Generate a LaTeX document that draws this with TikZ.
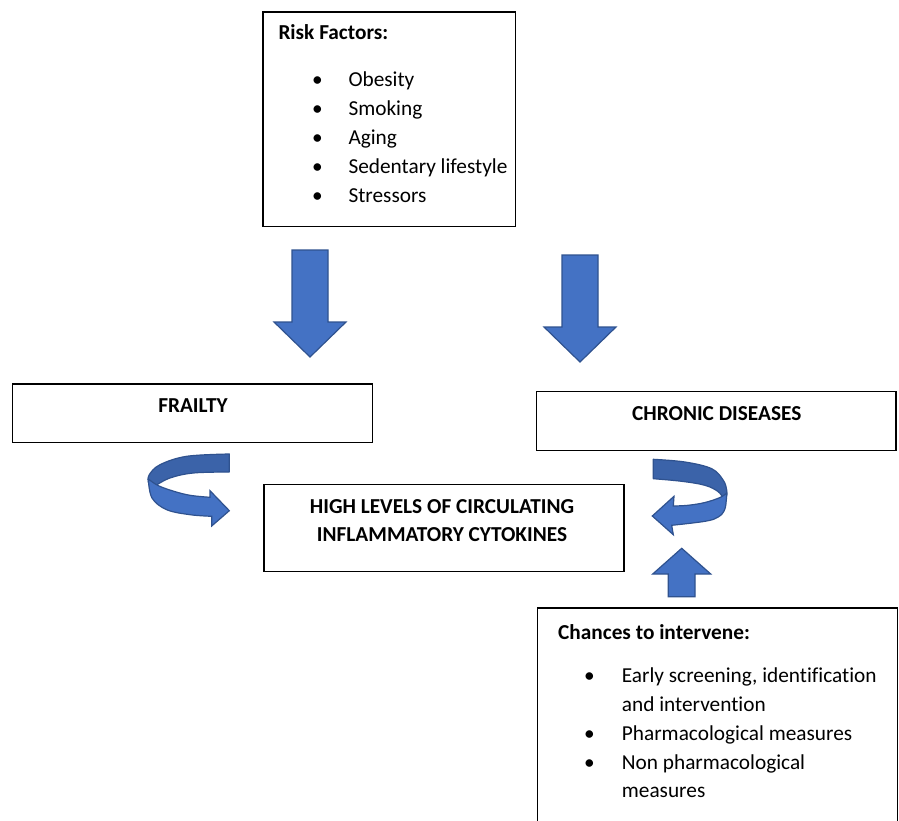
\documentclass[tikz,border=0pt]{standalone}
\usepackage{fontspec}
\setmainfont{Carlito}[Ligatures=NoCommon]
\definecolor{arrowfill}{HTML}{4472C4}
\definecolor{arrowline}{HTML}{2F528F}
\definecolor{arrowdark}{HTML}{3B63A9}
\begin{document}
\begin{tikzpicture}[x=1pt,y=-1pt,
  box/.style={draw=black, line width=1.3pt, fill=white, inner sep=0pt},
  blockarrow/.style={fill=arrowfill, draw=arrowline, line width=1.2pt, line join=miter},
  backband/.style={fill=arrowdark, draw=arrowline, line width=1.2pt, line join=round},
  frontband/.style={fill=arrowfill, draw=arrowline, line width=1.2pt, line join=miter},
  txt/.style={inner sep=0pt, font=\fontsize{21.3}{28.8}\selectfont},
  btxt/.style={inner sep=0pt, font=\fontsize{21.3}{28.8}\selectfont\bfseries}]
\useasboundingbox (0,0) rectangle (899,821);
\fill[white] (0,0) rectangle (899,821);

% ---------- boxes ----------
\node[box, minimum width=252.7pt, minimum height=214.7pt] (risk) at (389.35,119.35) {};
\node[box, minimum width=360pt, minimum height=58.7pt] (frailty) at (192.7,413.35) {};
\node[box, minimum width=359.3pt, minimum height=59pt] (chronic) at (716.35,421.2) {};
\node[box, minimum width=360pt, minimum height=87.4pt] (high) at (444,528) {};
\begin{scope}
\clip (0,0) rectangle (899,821);
\node[box, minimum width=360pt, minimum height=240pt] (chances) at (717.3,728) {};
\end{scope}

% ---------- risk factors text ----------
\node[btxt, anchor=base west] (rftitle) at (278.3,39.3) {Risk Factors:};
\foreach \i/\t/\y in {1/Obesity/86.7, 2/Smoking/115.6, 3/Aging/144.5, 4/Sedentary lifestyle/173.4, 5/Stressors/202.3}{
  \node[txt, anchor=base] (rfb\i) at (317.3,\y) {•};
  \node[txt, anchor=base west] (rft\i) at (348.3,\y) {\t};
}

% ---------- box labels ----------
\node[btxt, anchor=base] (frailtytxt) at (193,412.7) {FRAILTY};
\node[btxt, anchor=base] (chronictxt) at (716.7,420) {CHRONIC DISEASES};
\node[btxt, anchor=base] (hightxt1) at (442,513.3) {HIGH LEVELS OF CIRCULATING};
\node[btxt, anchor=base] (hightxt2) at (442,541) {INFLAMMATORY CYTOKINES};

% ---------- chances text ----------
\node[btxt, anchor=base west] (chtitle) at (558,639.3) {Chances to intervene:};
\node[txt, anchor=base] (chb1) at (589.3,682.7) {•};
\node[txt, anchor=base west] (cht1) at (621.7,682.7) {Early screening, identification};
\node[txt, anchor=base west] (cht1b) at (621.7,711.7) {and intervention};
\node[txt, anchor=base] (chb2) at (589.3,740.2) {•};
\node[txt, anchor=base west] (cht2) at (621.7,740.2) {Pharmacological measures};
\node[txt, anchor=base] (chb3) at (589.3,769) {•};
\node[txt, anchor=base west] (cht3) at (621.7,769) {Non pharmacological};
\node[txt, anchor=base west] (cht3b) at (621.7,797.3) {measures};

% ---------- down arrows ----------
\draw[blockarrow] (292,250) -- (328,250) -- (328,322) -- (346,322) -- (310,357)
  -- (274,322) -- (292,322) -- cycle;
\draw[blockarrow] (562,255) -- (598,255) -- (598,327) -- (616,327) -- (580,362)
  -- (544,327) -- (562,327) -- cycle;

% ---------- up arrow ----------
\draw[blockarrow] (668.3,596.7) -- (695,596.7) -- (695,574) -- (710.7,574) -- (681.7,548.3)
  -- (652.7,574) -- (668.3,574) -- cycle;

% ---------- left curved arrow ----------
\draw[backband] (229.3,454) -- (229.3,472)
  -- plot[smooth, tension=0.6] coordinates {(229.3,472) (193.3,473) (170,478) (155,486)}
  -- plot[smooth, tension=0.6] coordinates {(148.3,482) (149.3,474.7) (160,464.7) (186.7,456.3) (229.3,454)}
  -- cycle;
\draw[frontband] plot[smooth, tension=0.6] coordinates {(148.3,479) (158,485.5) (173,491) (190,495.3) (210,497.3)}
  -- (210,490.7) -- (229.3,510.7) -- (211.7,526) -- (211.7,516.3)
  -- plot[smooth, tension=0.6] coordinates {(211.7,516.3) (190,514.7) (166.7,509.7) (152,498) (148.3,479)}
  -- cycle;

% ---------- right curved arrow ----------
\draw[backband] (653.3,459.3) -- (653.3,478.7)
  -- plot[smooth, tension=0.6] coordinates {(653.3,478.7) (681.7,481.3) (705,485.3) (718,491.5) (723,498)}
  -- plot[smooth, tension=0.6] coordinates {(726.7,496) (726.7,490) (723.3,480.3) (711.7,468.7) (685,462) (653.3,459.3)}
  -- cycle;
\draw[frontband] plot[smooth, tension=0.6] coordinates {(726.7,493) (720,497.5) (705,502.5) (688,505.3) (673.3,506)}
  -- (674,496.3) -- (652.3,516) -- (673.3,534.7) -- (671.7,525.3)
  -- plot[smooth, tension=0.6] coordinates {(671.7,525.3) (705,521.3) (718.3,517) (725,508.7) (726.7,493)}
  -- cycle;
\end{tikzpicture}
\end{document}
